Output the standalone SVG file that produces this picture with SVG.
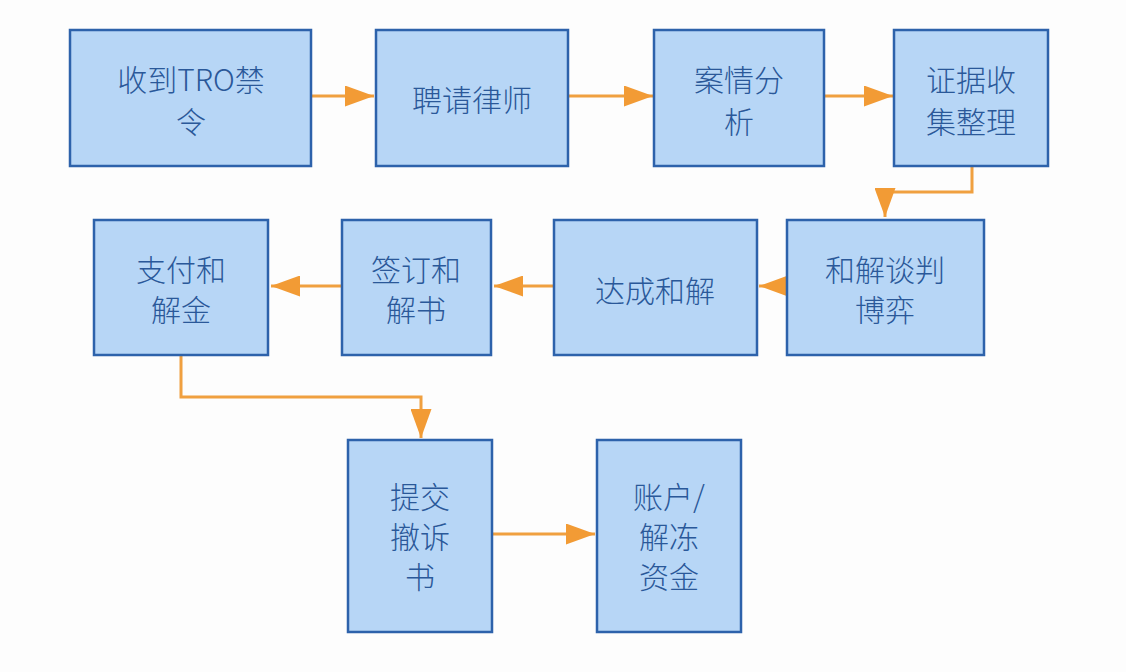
<svg xmlns="http://www.w3.org/2000/svg" width="1126" height="672" viewBox="0 0 1126 672">
<defs>
<style>
.box{fill:#b7d6f6;stroke:#2d62ab;stroke-width:2.5}
.t{font-family:"Noto Sans CJK SC","Noto Sans",sans-serif;font-size:30px;font-weight:300;fill:#2a5899;text-anchor:middle;dominant-baseline:central}
.c{fill:none;stroke:#f0a040;stroke-width:3}
</style>
<marker id="ah" markerUnits="userSpaceOnUse" markerWidth="29" markerHeight="21" refX="29" refY="10.5" orient="auto" viewBox="0 0 29 21">
<path d="M0,0 L29,10.5 L0,21 Z" fill="#f29b35"/>
</marker>
</defs>
<rect width="1126" height="672" fill="#fdfdfd"/>
<g id="connectors">
<line class="c" x1="311" y1="96" x2="374" y2="96" marker-end="url(#ah)"/>
<line class="c" x1="568" y1="96" x2="653" y2="96" marker-end="url(#ah)"/>
<line class="c" x1="824" y1="96" x2="893" y2="96" marker-end="url(#ah)"/>
<polyline class="c" points="972,166 972,192 885,192 885,217" marker-end="url(#ah)"/>
<line class="c" x1="787" y1="286" x2="759" y2="286" marker-end="url(#ah)"/>
<line class="c" x1="554" y1="286" x2="494" y2="286" marker-end="url(#ah)"/>
<line class="c" x1="342" y1="286" x2="271" y2="286" marker-end="url(#ah)"/>
<polyline class="c" points="181,356 181,397 421,397 421,438" marker-end="url(#ah)"/>
<line class="c" x1="492" y1="534" x2="595" y2="534" marker-end="url(#ah)"/>
</g>
<g id="n1"><rect class="box" x="70" y="30" width="241" height="136"/><text class="t" x="191" y="78">收到TRO禁</text><text class="t" x="191" y="120">令</text></g>
<g id="n2"><rect class="box" x="376" y="30" width="192" height="136"/><text class="t" x="472" y="98">聘请律师</text></g>
<g id="n3"><rect class="box" x="654" y="30" width="170" height="136"/><text class="t" x="739" y="78">案情分</text><text class="t" x="739" y="120">析</text></g>
<g id="n4"><rect class="box" x="894" y="30" width="154" height="136"/><text class="t" x="971" y="78">证据收</text><text class="t" x="971" y="120">集整理</text></g>
<g id="n5"><rect class="box" x="787" y="220" width="197" height="135"/><text class="t" x="885" y="268">和解谈判</text><text class="t" x="885" y="308">博弈</text></g>
<g id="n6"><rect class="box" x="554" y="220" width="203" height="135"/><text class="t" x="655" y="289">达成和解</text></g>
<g id="n7"><rect class="box" x="342" y="220" width="149" height="135"/><text class="t" x="416" y="268">签订和</text><text class="t" x="416" y="308">解书</text></g>
<g id="n8"><rect class="box" x="94" y="220" width="174" height="135"/><text class="t" x="181" y="268">支付和</text><text class="t" x="181" y="308">解金</text></g>
<g id="n9"><rect class="box" x="348" y="440" width="144" height="192"/><text class="t" x="420" y="495">提交</text><text class="t" x="420" y="535">撤诉</text><text class="t" x="420" y="575">书</text></g>
<g id="n10"><rect class="box" x="597" y="440" width="144" height="192"/><text class="t" x="669" y="495">账户/</text><text class="t" x="669" y="535">解冻</text><text class="t" x="669" y="575">资金</text></g>
</svg>
